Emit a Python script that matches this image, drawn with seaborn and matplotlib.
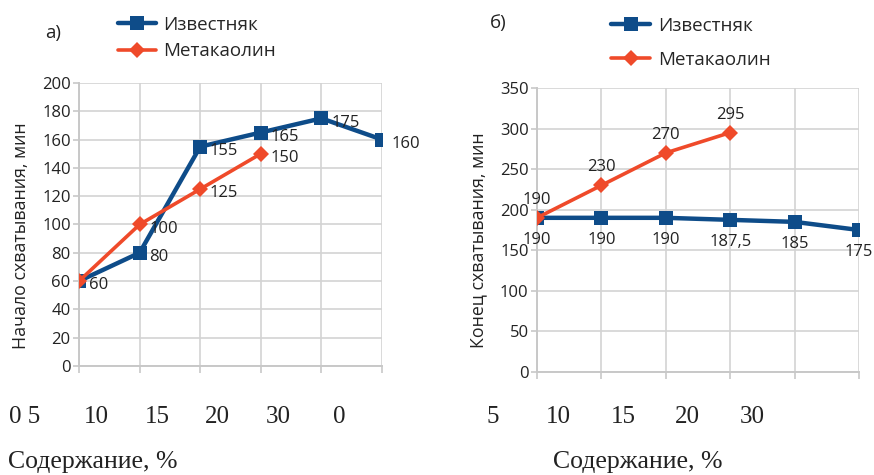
import numpy as np
import pandas as pd
import seaborn as sns
import matplotlib.pyplot as plt
from matplotlib.transforms import blended_transform_factory

# data
content = ["0", "5", "10", "15", "20", "30"]
start_limestone = [60, 80, 155, 165, 175, 160]
start_metakaolin = [60, 100, 125, 150]
end_limestone = [190, 190, 190, 187.5, 185, 175]
end_metakaolin = [190, 230, 270, 295]

left_xlabels = ["0 5", "10", "15", "20", "30", "0"]
right_xlabels = ["5", "10", "15", "20", "30"]

series = ["Известняк", "Метакаолин"]
colors = {"Известняк": "#0e4c89", "Метакаолин": "#ef4a2a"}
markers = {"Известняк": "s", "Метакаолин": "D"}


def long_df(lime, meta):
    return pd.concat([
        pd.DataFrame({"x": content[:len(lime)], "y": lime, "s": series[0]}),
        pd.DataFrame({"x": content[:len(meta)], "y": meta, "s": series[1]}),
    ], ignore_index=True)


sns.set_theme(style="white")
plt.rcParams["font.family"] = ["Open Sans", "DejaVu Sans"]

fig = plt.figure(figsize=(8.74, 4.75), dpi=100)
ax1 = fig.add_axes([0.0904, 0.2295, 0.3467, 0.5958])
ax2 = fig.add_axes([0.6144, 0.2168, 0.3684, 0.5980])

grid_c = "#d3d3d3"
serif = "Liberation Serif"
txt_c = "#222222"


def draw(ax, lime, meta, ymax, ystep, ylabel):
    df = long_df(lime, meta)
    for name in series:
        sub = df[df["s"] == name]
        sns.lineplot(data=sub, x="x", y="y", ax=ax, color=colors[name],
                     marker=markers[name], lw=3.2 if name == series[0] else 2.6,
                     markersize=10.5 if name == series[0] else 8,
                     markeredgewidth=0, label=name, legend=False, zorder=3)
    ax.set_xlim(0, len(content) - 1)
    ax.set_ylim(0, ymax)
    ax.set_yticks(np.arange(0, ymax + 1, ystep))
    ax.set_xticks(range(len(content)))
    ax.grid(True, color=grid_c, lw=1.2)
    for s in ["top", "right"]:
        ax.spines[s].set_visible(False)
    for s in ["left", "bottom"]:
        ax.spines[s].set_color("#c8c8c8")
        ax.spines[s].set_linewidth(1.4)
    ax.tick_params(axis="x", length=5, width=1.2, color="#c8c8c8",
                   bottom=True, labelbottom=False)
    ax.tick_params(axis="y", length=4, width=1.2, color="#c8c8c8", left=True,
                   labelsize=12, labelcolor=txt_c, pad=2)
    ax.set_xlabel("")
    ax.set_ylabel(ylabel, fontsize=12.8, color=txt_c)
    return df


draw(ax1, start_limestone, start_metakaolin, 200, 20, "Начало схватывания, мин")
draw(ax2, end_limestone, end_metakaolin, 350, 50, "Конец схватывания, мин")
ax1.yaxis.set_label_coords(-0.162, 0.46)
ax2.yaxis.set_label_coords(-0.155, 0.465)

# data labels
lab_kw = dict(fontsize=12, color=txt_c, zorder=4)
for i, v in enumerate(start_limestone):
    ax1.annotate(f"{v:g}", (content[i], v), xytext=(7, -3),
                 textcoords="offset points", ha="left", va="center", **lab_kw)
for i, v in enumerate(start_metakaolin[1:], start=1):
    ax1.annotate(f"{v:g}", (content[i], v), xytext=(7, -3),
                 textcoords="offset points", ha="left", va="center", **lab_kw)
for i, v in enumerate(end_limestone):
    ax2.annotate(f"{v:g}".replace(".", ","), (content[i], v), xytext=(0, -16),
                 textcoords="offset points", ha="center", va="center", **lab_kw)
for i, v in enumerate(end_metakaolin):
    ax2.annotate(f"{v:g}", (content[i], v), xytext=(0, 13),
                 textcoords="offset points", ha="center", va="center", **lab_kw)

# serif category labels below the axes
left_pos = [-0.89, 0.29, 1.29, 2.28, 3.28, 4.29]
right_pos = [-0.68, 0.33, 1.34, 2.33, 3.34]
for ax, labels, pos in [(ax1, left_xlabels, left_pos), (ax2, right_xlabels, right_pos)]:
    tr = blended_transform_factory(ax.transData, fig.transFigure)
    for p, t in zip(pos, labels):
        ax.text(p, 0.122, t, transform=tr, ha="center", va="center",
                fontsize=18, family=serif, color=txt_c, clip_on=False)

fig.text(8 / 874, 0.027, "Содержание, %", ha="left", va="center",
         fontsize=18.5, family=serif, color=txt_c)
fig.text(638 / 874, 0.027, "Содержание, %", ha="center", va="center",
         fontsize=18.5, family=serif, color=txt_c)

fig.text(53 / 874, 1 - 33 / 475, "а)", ha="center", va="center",
         fontsize=13.5, color=txt_c)
fig.text(498 / 874, 1 - 23 / 475, "б)", ha="center", va="center",
         fontsize=13.5, color=txt_c)

# legends
h1, l1 = ax1.get_legend_handles_labels()
fig.legend(h1, l1, loc="upper left", bbox_to_anchor=(118 / 874, 1 - 16 / 475),
           frameon=False, fontsize=13.5, handlelength=2.0, handletextpad=0.4,
           labelspacing=0.45, borderpad=0, borderaxespad=0)
h2, l2 = ax2.get_legend_handles_labels()
fig.legend(h2, l2, loc="upper left", bbox_to_anchor=(611 / 874, 1 - 17 / 475),
           frameon=False, fontsize=13.5, handlelength=2.1, handletextpad=0.4,
           labelspacing=0.85, borderpad=0, borderaxespad=0)

fig.savefig("out.png", dpi=100)
